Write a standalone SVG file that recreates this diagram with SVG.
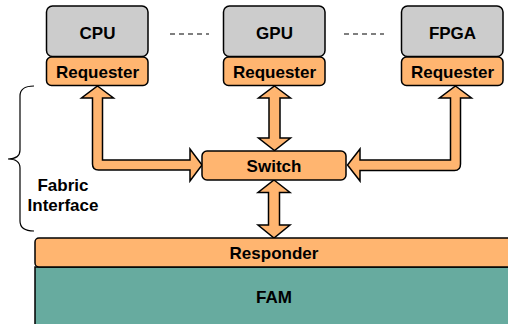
<svg xmlns="http://www.w3.org/2000/svg" width="508" height="324" viewBox="0 0 508 324">
<style>
.box{stroke:#000;stroke-width:1.5}
.gray{fill:#CCCCCC}
.org{fill:#FFB570}
.fam{fill:#67AB9F}
.arr{fill:#FFB570;stroke:#000;stroke-width:1.5;stroke-linejoin:miter}
text{font-family:"Liberation Sans",Arial,sans-serif;font-weight:bold;font-size:17px;text-anchor:middle;fill:#000}
.dash{stroke:#000;stroke-width:1.2;stroke-dasharray:5 4;fill:none}
</style>
<rect width="508" height="324" fill="#fff"/>
<g id="connectors">
<path class="arr" d="M97.5,86 L113.5,98 L102.5,98 L102.5,160 L190,160 L190,149 L202,165 L190,181 L190,170 L98.5,170 Q92.5,170 92.5,164 L92.5,98 L81.5,98 Z"/>
<path class="arr" d="M455.5,86 L471.5,98 L460.5,98 L460.5,164 Q460.5,170.5 454.5,170.5 L360,170.5 L360,181 L347.5,165 L360,149 L360,160 L450.5,160 L450.5,98 L439.5,98 Z"/>
<path class="arr" d="M274.5,86 L290.5,98 L280,98 L280,138 L290.5,138 L274.5,150.5 L258.5,138 L269,138 L269,98 L258.5,98 Z"/>
<path class="arr" d="M274,180 L290,192.5 L279.5,192.5 L279.5,225 L290,225 L274,238 L258,225 L268.5,225 L268.5,192.5 L258,192.5 Z"/>
<line class="dash" x1="170" y1="34" x2="209" y2="34"/>
<line class="dash" x1="344" y1="34" x2="384" y2="34"/>
</g>
<g id="cpu">
<rect class="box gray" x="46.5" y="6" width="101.5" height="50.5" rx="6"/>
<text x="97.5" y="39">CPU</text>
</g>
<g id="cpu-requester">
<rect class="box org" x="46.5" y="57" width="101.5" height="28.5" rx="5"/>
<text x="97.5" y="77.5">Requester</text>
</g>
<g id="gpu">
<rect class="box gray" x="223.5" y="6" width="101.5" height="50.5" rx="6"/>
<text x="274.5" y="39">GPU</text>
</g>
<g id="gpu-requester">
<rect class="box org" x="223.5" y="57" width="101.5" height="28.5" rx="5"/>
<text x="274.5" y="77.5">Requester</text>
</g>
<g id="fpga">
<rect class="box gray" x="401.5" y="6" width="101.5" height="50.5" rx="6"/>
<text x="452.5" y="39">FPGA</text>
</g>
<g id="fpga-requester">
<rect class="box org" x="401.5" y="57" width="101.5" height="28.5" rx="5"/>
<text x="452.5" y="77.5">Requester</text>
</g>
<g id="switch">
<rect class="box org" x="202" y="151" width="144" height="29" rx="5"/>
<text x="274" y="171.5">Switch</text>
</g>
<g id="fabric-interface">
<path d="M34,86 Q20,86 20,96 L20,150 Q20,159 8,159 Q20,159 20,168 L20,221 Q20,231 34,231" fill="none" stroke="#000" stroke-width="1.2"/>
<text x="63" y="191">Fabric</text>
<text x="63" y="211">Interface</text>
</g>
<g id="fam">
<rect class="box fam" x="35" y="267" width="480" height="62"/>
<text x="274" y="303">FAM</text>
</g>
<g id="responder">
<rect class="box org" x="35" y="238" width="480" height="29" rx="4"/>
<text x="274" y="258.5">Responder</text>
</g>
</svg>
